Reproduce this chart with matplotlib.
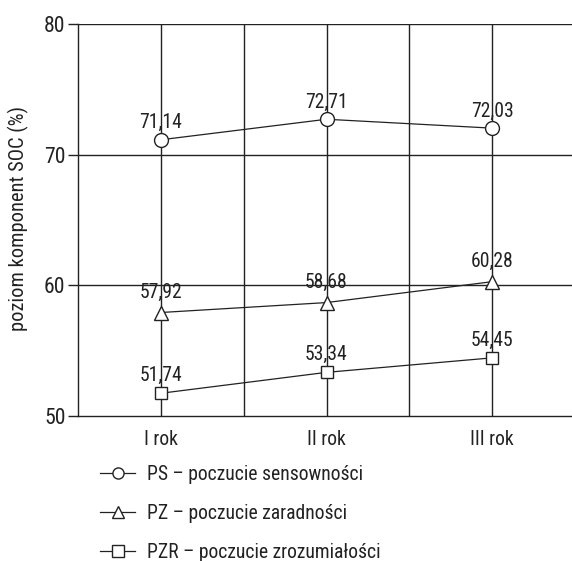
import matplotlib
matplotlib.use("Agg")
import matplotlib.pyplot as plt
from matplotlib import font_manager as fm

# pick a condensed sans face if one is installed, otherwise Liberation Sans
preferred = ['Liberation Sans Narrow', 'Arial Narrow', 'Roboto Condensed',
             'Open Sans Condensed', 'Noto Sans Condensed', 'DejaVu Sans Condensed',
             'Noto Sans', 'Open Sans', 'Roboto', 'DejaVu Sans']
def _is_condensed(f):
    st = f.stretch
    if isinstance(st, str):
        return 'condensed' in st or 'narrow' in f.name.lower() or 'condensed' in f.name.lower()
    return st < 500
chosen = None
for name in preferred:
    for f in fm.fontManager.ttflist:
        if f.name == name and f.style == 'normal' and f.weight in (400, 'normal', 'regular') \
                and (_is_condensed(f) or 'Narrow' in name or 'Condensed' in name):
            chosen = (f.name, f.stretch)
            break
    if chosen:
        break
if chosen:
    plt.rcParams['font.family'] = [chosen[0], 'Liberation Sans', 'DejaVu Sans']
    plt.rcParams['font.stretch'] = chosen[1]
    FS = 14.1
    LSP = 1.02
else:
    plt.rcParams['font.family'] = ['Liberation Sans', 'DejaVu Sans']
    FS = 13.0
    LSP = 1.1

categories = ["I rok", "II rok", "III rok"]
ps_values = [71.14, 72.71, 72.03]
pz_values = [57.92, 58.68, 60.28]
pzr_values = [51.74, 53.34, 54.45]
series_labels = ["PS – poczucie sensowności",
                 "PZ – poczucie zaradności",
                 "PZR – poczucie zrozumiałości"]
y_ticks = [50, 60, 70, 80]

fig = plt.figure(figsize=(5.72, 5.61), dpi=100)
ax = fig.add_axes([78/572, 1-416/561, (575-78)/572, (416-24)/561])

x = list(range(len(categories)))
ax.set_xlim(-0.5, 2.5)
ax.set_ylim(50, 80)

# grid lines
for xv in [0, 0.5, 1, 1.5, 2]:
    ax.axvline(xv, color='#222222', lw=1.0, zorder=1)
for yv in [60, 70, 80]:
    ax.axhline(yv, color='#222222', lw=1.0, zorder=1)

styles = [('o', 10, ps_values, 5.5), ('^', 10, pz_values, 7.5), ('s', 9, pzr_values, 6)]
handles = []
for (m, ms, vals, off), lab in zip(styles, series_labels):
    h, = ax.plot(x, vals, marker=m, ms=ms, color='#222222', lw=0.9,
                 mfc='white', mec='#222222', mew=1.0, zorder=3, label=lab)
    handles.append(h)
    for xi, v in zip(x, vals):
        ax.annotate(f"{v:.2f}".replace('.', ','), (xi, v), xytext=(0, off),
                    textcoords='offset points', ha='center', va='bottom',
                    fontsize=FS, color='#222222', zorder=4)

for s in ['top', 'right']:
    ax.spines[s].set_visible(False)
for s in ['left', 'bottom']:
    ax.spines[s].set_color('#222222')
    ax.spines[s].set_linewidth(1.0)

ax.set_yticks(y_ticks)
ax.set_yticklabels([str(v) for v in y_ticks], fontsize=FS + 1.6, color='#222222')
ax.tick_params(axis='y', length=7, width=1.0, color='#222222', pad=2)
ax.set_xticks(x)
ax.set_xticklabels(categories, fontsize=FS, color='#222222')
ax.tick_params(axis='x', length=0, pad=10)
ax.set_ylabel("poziom komponent SOC (%)", fontsize=FS + 0.6, color='#222222')
ax.yaxis.set_label_coords(-0.098, 0.505)

leg = fig.legend(handles=handles, labels=series_labels, loc='upper left',
                 bbox_to_anchor=(100/572, 1-465/561), frameon=False, fontsize=FS,
                 handlelength=1.8, handletextpad=0.6, labelspacing=LSP,
                 borderaxespad=0, borderpad=0, labelcolor='#222222')
for h in leg.legend_handles:
    h.set_markersize(8)

fig.savefig("out.png", dpi=100)
